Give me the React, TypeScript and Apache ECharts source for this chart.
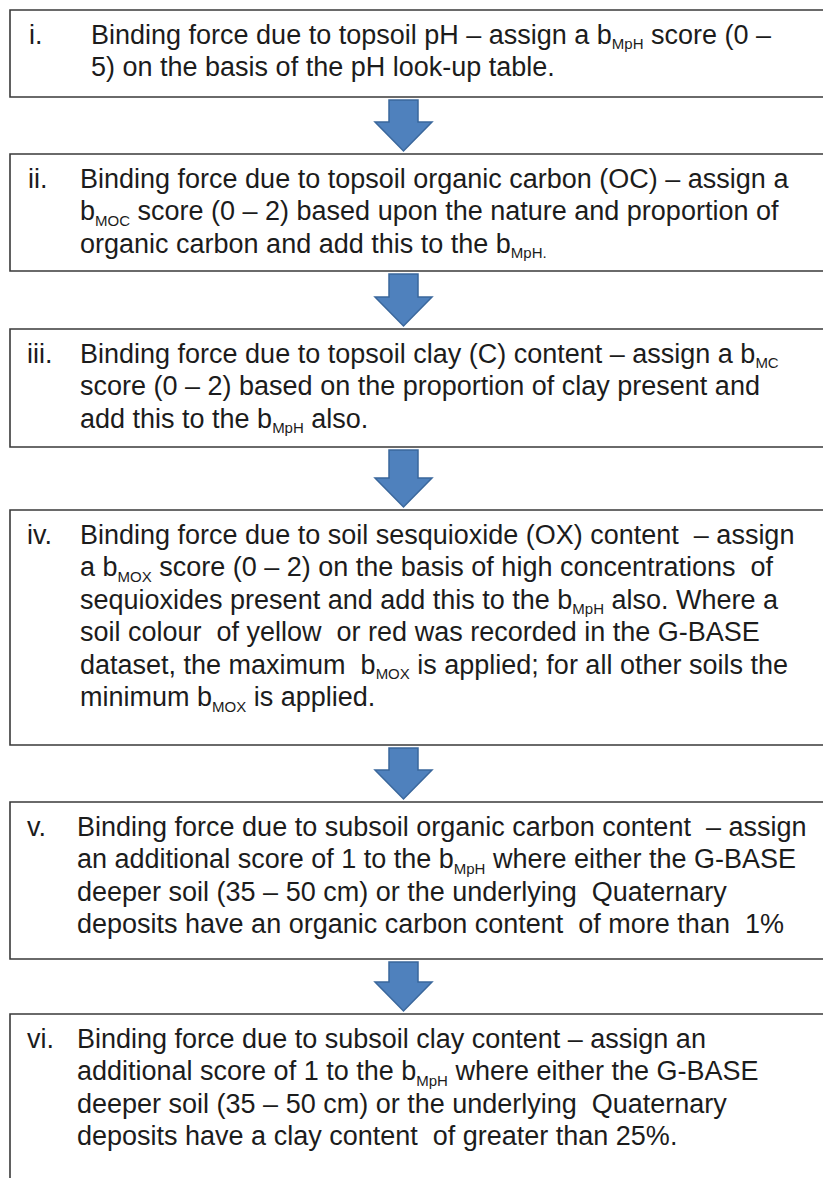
import React, { useEffect, useRef } from "react";
import * as echarts from "echarts";

// ---- content ----
const numerals: string[] = ["i.", "ii.", "iii.", "iv.", "v.", "vi."];

const step1: string[] = [
  "Binding force due to topsoil pH – assign a b{sub|MpH} score (0 –",
  "5) on the basis of the pH look-up table.",
];
const step2: string[] = [
  "Binding force due to topsoil organic carbon (OC) – assign a",
  "b{sub|MOC} score (0 – 2) based upon the nature and proportion of",
  "organic carbon and add this to the b{sub|MpH.}",
];
const step3: string[] = [
  "Binding force due to topsoil clay (C) content – assign a b{sub|MC}",
  "score (0 – 2) based on the proportion of clay present and",
  "add this to the b{sub|MpH} also.",
];
const step4: string[] = [
  "Binding force due to soil sesquioxide (OX) content  – assign",
  "a b{sub|MOX} score (0 – 2) on the basis of high concentrations  of",
  "sequioxides present and add this to the b{sub|MpH} also. Where a",
  "soil colour  of yellow  or red was recorded in the G-BASE",
  "dataset, the maximum  b{sub|MOX} is applied; for all other soils the",
  "minimum b{sub|MOX} is applied.",
];
const step5: string[] = [
  "Binding force due to subsoil organic carbon content  – assign",
  "an additional score of 1 to the b{sub|MpH} where either the G-BASE",
  "deeper soil (35 – 50 cm) or the underlying  Quaternary",
  "deposits have an organic carbon content  of more than  1%",
];
const step6: string[] = [
  "Binding force due to subsoil clay content – assign an",
  "additional score of 1 to the b{sub|MpH} where either the G-BASE",
  "deeper soil (35 – 50 cm) or the underlying  Quaternary",
  "deposits have a clay content  of greater than 25%.",
];
const steps: string[][] = [step1, step2, step3, step4, step5, step6];

// ---- layout ----
const boxTops: number[] = [10, 154, 329, 510, 802, 1014];
const boxBottoms: number[] = [97, 271, 447, 745, 959, 1260];
const textLefts: number[] = [91, 80, 80, 80, 77, 77];
const numeralLefts: number[] = [29, 28, 27, 27, 27, 27];

const W = 823;
const H = 1178;
const FONT = "'Liberation Sans', Arial, sans-serif";
const LINE_H = 32.5;

export default function App() {
  const ref = useRef<HTMLDivElement>(null);
  useEffect(() => {
    if (!ref.current) return;
    const chart = echarts.init(ref.current, undefined, { renderer: "svg" });
    const elements: any[] = [
      { type: "rect", shape: { x: 0, y: 0, width: W, height: H }, style: { fill: "#ffffff" }, silent: true },
    ];
    const boxLeft = 10;
    const cx = 403.5;
    steps.forEach((lines, i) => {
      const top = boxTops[i];
      const bottom = boxBottoms[i];
      elements.push({
        type: "rect",
        shape: { x: boxLeft, y: top, width: 850, height: bottom - top },
        style: { fill: "#ffffff", stroke: "#3a3a3a", lineWidth: 1.6 },
      });
      elements.push({
        type: "text",
        x: numeralLefts[i],
        y: top + 8.5,
        style: {
          text: numerals[i],
          fontSize: 27,
          fontFamily: FONT,
          fill: "#1c1c1c",
          lineHeight: LINE_H,
          textAlign: "left",
          textVerticalAlign: "top",
        },
      });
      elements.push({
        type: "text",
        x: textLefts[i],
        y: top + 8.5,
        style: {
          text: lines.join("\n"),
          fontSize: 27,
          fontFamily: FONT,
          fill: "#1c1c1c",
          lineHeight: LINE_H,
          textAlign: "left",
          textVerticalAlign: "top",
          rich: {
            sub: {
              fontSize: 15,
              fontFamily: FONT,
              fill: "#1c1c1c",
              lineHeight: 14,
              verticalAlign: "bottom",
            },
          },
        },
      });
      if (i < steps.length - 1) {
        const a0 = bottom + 3;
        const a1 = boxTops[i + 1] - 3;
        const headH = 29;
        const hs = 14.5;
        const hh = 28.5;
        elements.push({
          type: "polygon",
          shape: {
            points: [
              [cx - hs, a0],
              [cx + hs, a0],
              [cx + hs, a1 - headH],
              [cx + hh, a1 - headH],
              [cx, a1],
              [cx - hh, a1 - headH],
              [cx - hs, a1 - headH],
            ],
          },
          style: { fill: "#4f81bd", stroke: "#3a679c", lineWidth: 1.5 },
        });
      }
    });
    chart.setOption({ animation: false, graphic: { elements } });
    return () => chart.dispose();
  }, []);
  return (
    <div
      ref={ref}
      style={{ position: "absolute", left: 0, top: 0, width: W, height: H, background: "#fff" }}
    />
  );
}
